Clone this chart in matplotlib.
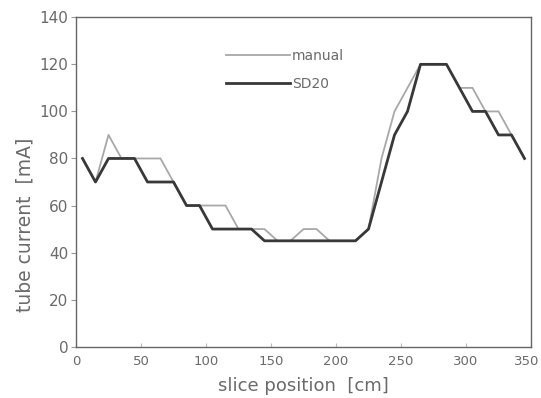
import matplotlib
matplotlib.use("Agg")
import matplotlib.pyplot as plt
from matplotlib.transforms import ScaledTranslation

# slice positions [cm]
x_pos = [5, 15, 25, 35, 45, 55, 65, 75, 85, 95, 105, 115, 125, 135, 145, 155,
         165, 175, 185, 195, 205, 215, 225, 235, 245, 255, 265, 275, 285, 295,
         305, 315, 325, 335, 345]
manual = [80, 70, 90, 80, 80, 80, 80, 70, 60, 60, 60, 60, 50, 50, 50, 45,
          45, 50, 50, 45, 45, 45, 50, 80, 100, 110, 120, 120, 120, 110,
          110, 100, 100, 90, 80]
sd20 = [80, 70, 80, 80, 80, 70, 70, 70, 60, 60, 50, 50, 50, 50, 45, 45,
        45, 45, 45, 45, 45, 45, 50, 70, 90, 100, 120, 120, 120, 110,
        100, 100, 90, 90, 80]
x_ticks = [0, 50, 100, 150, 200, 250, 300, 350]
y_ticks = [0, 20, 40, 60, 80, 100, 120, 140]

W, H = 541, 398
txt = '#6a6a6a'
fig = plt.figure(figsize=(W / 100, H / 100), dpi=100)
L, R, T, B = 76, 531, 17.3, 346.7
ax = fig.add_axes([L / W, 1 - B / H, (R - L) / W, (B - T) / H])

ax.plot(x_pos, manual, color='#a8a8a8', lw=1.3, label='manual', zorder=2)
ax.plot(x_pos, sd20, color='#383838', lw=2.0, label='SD20', zorder=3)

ax.set_xlim(0, 350)
ax.set_ylim(0, 140)
ax.set_xticks(x_ticks)
ax.set_yticks(y_ticks)
ax.tick_params(axis='x', direction='in', length=3, colors='#bbbbbb',
               labelcolor=txt, labelsize=9.5, pad=6)
ax.tick_params(axis='y', direction='out', length=3.5, colors='#999999',
               labelcolor=txt, labelsize=11, pad=2)
for s in ax.spines.values():
    s.set_color('#666666')
    s.set_linewidth(1.0)

# keep the last x tick label inside the picture
last = ax.get_xticklabels()[-1]
last.set_transform(last.get_transform() +
                   ScaledTranslation(-4 / 100, 0, fig.dpi_scale_trans))

ax.set_xlabel('slice position  [cm]', color=txt, fontsize=13)
ax.xaxis.set_label_coords(0.5, -(386 - B) / (B - T), transform=ax.transAxes)
ax.xaxis.label.set_va('center')
ax.set_ylabel('tube current  [mA]', color=txt, fontsize=13.5)
ax.yaxis.set_label_coords(-(L - 25) / (R - L), (B - 225) / (B - T),
                          transform=ax.transAxes)
ax.yaxis.label.set_va('center')

leg = ax.legend(loc='upper left', bbox_to_anchor=(0.303, 0.942), frameon=False,
                handlelength=4.6, handletextpad=0.1, fontsize=10,
                labelspacing=1.0)
for t in leg.get_texts():
    t.set_color(txt)

fig.savefig('out.png', dpi=100)
